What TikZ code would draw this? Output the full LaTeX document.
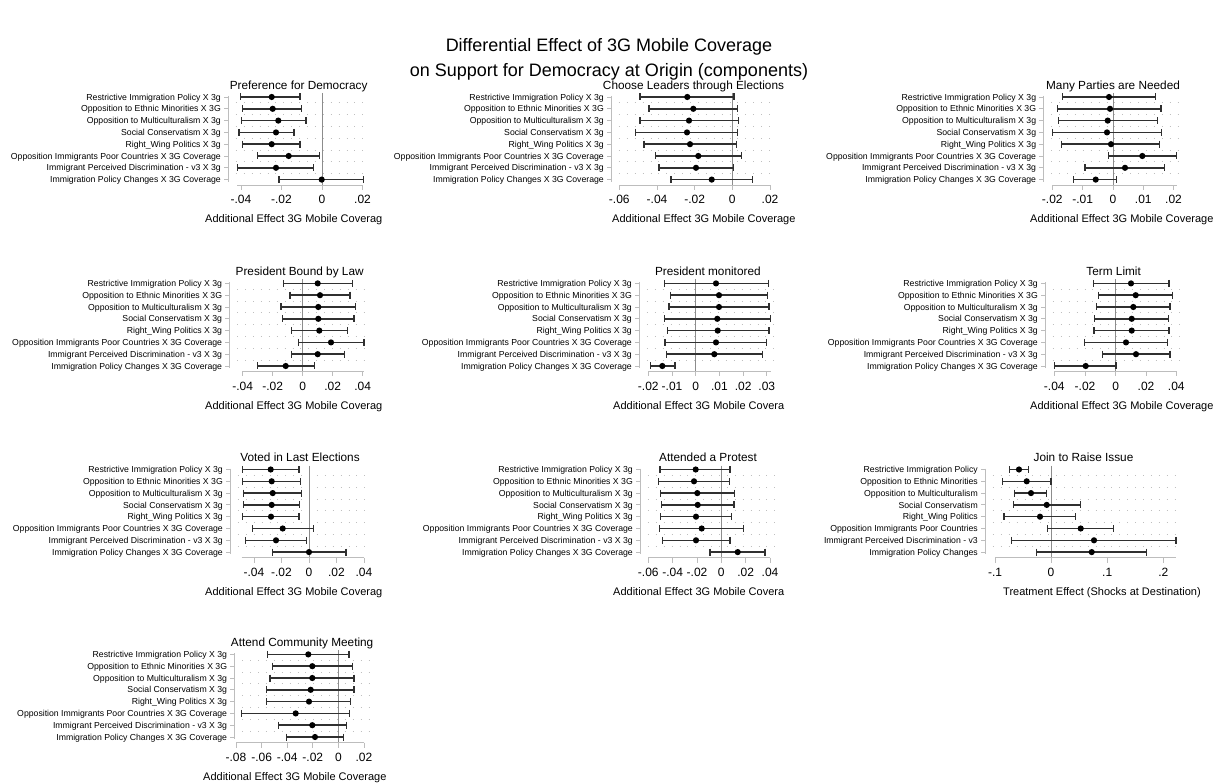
\documentclass[tikz,border=0pt]{standalone}
\usepackage{fontspec}
\setmainfont{Liberation Sans}
\definecolor{whiskcol}{HTML}{303030}
\definecolor{axcol}{HTML}{BDBDBD}
\definecolor{zerocol}{HTML}{8C8C8C}
\definecolor{gridcol}{HTML}{BFBFBF}
\tikzset{
  rowlab/.style={anchor=mid east, inner sep=0pt, font=\fontsize{8.7}{9}\selectfont},
  ticklab/.style={anchor=mid, inner sep=0pt, font=\fontsize{12}{12}\selectfont},
  axtitle/.style={anchor=mid west, inner sep=0pt, font=\fontsize{11}{11}\selectfont},
  ptitle/.style={anchor=mid, inner sep=0pt, font=\fontsize{11.8}{12}\selectfont},
  maintitle/.style={anchor=mid, inner sep=0pt, font=\fontsize{18}{18}\selectfont},
  whisk/.style={line width=1.5pt, draw=whiskcol},
  axisline/.style={draw=axcol, line width=0.9pt},
  gridline/.style={draw=gridcol, line width=0.9pt, dash pattern=on 0.9pt off 7pt},
  zeroline/.style={draw=zerocol, line width=1pt},
  ptdot/.style={circle, fill=black, inner sep=0pt, minimum size=6.2pt}
}
\def\labA{Restrictive Immigration Policy X 3g,
Opposition to Ethnic Minorities X 3G,
Opposition to Multiculturalism X 3g,
Social Conservatism X 3g,
Right\_Wing Politics X 3g,
Opposition Immigrants Poor Countries X 3G Coverage,
Immigrant Perceived Discrimination - v3 X 3g,
Immigration Policy Changes X 3G Coverage}
\def\labB{Restrictive Immigration Policy,
Opposition to Ethnic Minorities,
Opposition to Multiculturalism,
Social Conservatism,
Right\_Wing Politics,
Opposition Immigrants Poor Countries,
Immigrant Perceived Discrimination - v3,
Immigration Policy Changes}
\newcommand{\drawpanel}[1]{%
  \pgfmathsetmacro\PR{\XE+6}%
  \pgfmathsetmacro\PC{(\AX+\PR)/2}%
  \pgfmathsetmacro\YB{\RY+7*11.8}%
  \pgfmathsetmacro\XA{\YB+5.5}%
  \foreach \k in {1,...,7} {\draw[gridline] (\AX,{\RY+(\k-0.5)*11.8}) -- (\PR,{\RY+(\k-0.5)*11.8});}
  \draw[zeroline] (\ZX,{\RY-4}) -- (\ZX,\XA);
  \draw[axisline] (\AX,{\RY-1}) -- (\AX,{\YB+2});
  \foreach \k in {1,...,8} {\draw[axisline] ({\AX-4},{\RY+(\k-1)*11.8}) -- (\AX,{\RY+(\k-1)*11.8});}
  \draw[axisline] (\XS,\XA) -- (\XE,\XA);
  \foreach \p/\l [count=\j] in \TK {%
    \draw[axisline] (\p,\XA) -- (\p,{\XA+5});
    \node[ticklab] (#1-tick\j) at (\p,{\RY+104}) {\l};
  }
  \foreach \t [count=\i] in \LB {\node[rowlab] (#1-lab\i) at ({\AX-7},{\RY+(\i-1)*11.8+0.5}) {\t};}
  \foreach \lo/\pt/\hi [count=\i] in \DT {%
    \pgfmathsetmacro\yy{\RY+(\i-1)*11.8}
    \draw[whisk] (\lo,\yy) -- (\hi,\yy);
    \draw[whisk] (\lo,{\yy-3.5}) -- (\lo,{\yy+3.5});
    \draw[whisk] (\hi,{\yy-3.5}) -- (\hi,{\yy+3.5});
    \node[ptdot] (#1-pt\i) at (\pt,\yy) {};
  }
  \node[ptitle] (#1-title) at (\PC,{\RY-10.5}) {\PT};
  \node[axtitle] (#1-axis) at (\ATX,{\RY+123}) {\AT};
}
\begin{document}
\begin{tikzpicture}[x=1pt,y=-1pt]
\useasboundingbox (0,0) rectangle (1218,783);
\fill[white] (0,0) rectangle (1218,783);
\node[maintitle] (title1) at (609,49) {Differential Effect of 3G Mobile Coverage};
\node[maintitle] (title2) at (609,73.5) {on Support for Democracy at Origin (components)};

% Panel 1
\def\AX{228}\def\RY{97}\def\XS{237.3}\def\XE{363.3}\def\ZX{322}
\def\PT{Preference for Democracy}
\def\TK{241/-.04,281.5/-.02,322/0,362.5/.02}
\def\DT{240.7/271.7/300,242.3/272.7/301.7,241.7/278.3/306,239/276/294,242.3/271.7/300,257.7/288.7/319.3,237.3/276/313.3,279/321.7/363.3}
\let\LB\labA\def\AT{Additional Effect 3G Mobile Coverag}\def\ATX{205}
\drawpanel{p1}

% Panel 2
\def\AX{611}\def\RY{97}\def\XS{619.3}\def\XE{770}\def\ZX{732.3}
\def\PT{Choose Leaders through Elections}
\def\TK{619.3/-.06,657/-.04,694.7/-.02,732.3/0,770/.02}
\def\DT{640/687.3/734,649/693.3/737.7,640/689/738.3,635.7/687/737.7,644/690/736.7,655.7/698.3/741.7,659/696/733.3,671/711.7/752.3}
\let\LB\labA\def\AT{Additional Effect 3G Mobile Coverage}\def\ATX{612}
\drawpanel{p2}

% Panel 3
\def\AX{1043.3}\def\RY{97}\def\XS{1052.3}\def\XE{1176.7}\def\ZX{1113}
\def\PT{Many Parties are Needed}
\def\TK{1052.3/-.02,1082.7/-.01,1113/0,1143.3/.01,1173.5/.02}
\def\DT{1062.7/1109/1155.7,1057.7/1110/1161,1058.7/1107.7/1157.7,1052.3/1107/1161.7,1061.7/1111/1159.3,1108.3/1142.3/1176.7,1085/1125/1164.3,1073.3/1095.7/1116.7}
\let\LB\labA\def\AT{Additional Effect 3G Mobile Coverage}\def\ATX{1030}
\drawpanel{p3}

% Panel 4
\def\AX{229.3}\def\RY{283.4}\def\XS{242.7}\def\XE{364}\def\ZX{302.7}
\def\PT{President Bound by Law}
\def\TK{242.7/-.04,272.7/-.02,302.7/0,332.7/.02,362.7/.04}
\def\DT{283.3/317.7/352.3,290/320/350,281/318.3/355.7,282.7/318.3/354,291.7/319.3/347.3,298.3/331/364,291.7/317.7/344.3,257.7/285.7/314.3}
\let\LB\labA\def\AT{Additional Effect 3G Mobile Coverag}\def\ATX{205}
\drawpanel{p4}

% Panel 5
\def\AX{639}\def\RY{283.4}\def\XS{648.3}\def\XE{770.7}\def\ZX{695.7}
\def\PT{President monitored}
\def\TK{648.3/-.02,672/-.01,695.7/0,719.4/.01,743.1/.02,766.8/.03}
\def\DT{664.3/716/768.3,670.7/719/767.3,669/719/769,664.3/717.3/770.7,667.3/717.7/769,665/716/766.7,666.7/714.3/762.3,650.7/662.3/675}
\let\LB\labA\def\AT{Additional Effect 3G Mobile Covera}\def\ATX{613}
\drawpanel{p5}

% Panel 6
\def\AX{1045}\def\RY{283.4}\def\XS{1054.3}\def\XE{1176.3}\def\ZX{1115.7}
\def\PT{Term Limit}
\def\TK{1054.3/-.04,1085/-.02,1115.7/0,1146/.02,1176.3/.04}
\def\DT{1093.3/1131/1169,1098.3/1135.7/1172.3,1096.7/1133.3/1170,1094.3/1131.7/1168.3,1094/1131.7/1169,1084.3/1126/1167.3,1102.3/1136/1170,1054.3/1085.7/1116}
\let\LB\labA\def\AT{Additional Effect 3G Mobile Coverage}\def\ATX{1030}
\drawpanel{p6}

% Panel 7
\def\AX{230}\def\RY{469.5}\def\XS{241.7}\def\XE{364}\def\ZX{309}
\def\PT{Voted in Last Elections}
\def\TK{254/-.04,281.5/-.02,309/0,336.5/.02,364/.04}
\def\DT{242.3/270.7/299,242.3/271.7/300.7,243.3/272.7/301.7,243.3/271.7/299.3,242.7/271/299,252.3/282.7/313.3,245.7/276/306.7,272.7/309/346}
\let\LB\labA\def\AT{Additional Effect 3G Mobile Coverag}\def\ATX{205}
\drawpanel{p7}

% Panel 8
\def\AX{640}\def\RY{469.5}\def\XS{648.3}\def\XE{770}\def\ZX{721.3}
\def\PT{Attended a Protest}
\def\TK{648.3/-.06,672.6/-.04,697/-.02,721.3/0,745.6/.02,770/.04}
\def\DT{660/695.7/730,658.3/694/729.3,660.7/697.3/734.3,661.7/697.7/734,660.7/696/731.7,659.3/701.7/743.3,662.7/696/730,710/737.7/765}
\let\LB\labA\def\AT{Additional Effect 3G Mobile Covera}\def\ATX{613}
\drawpanel{p8}

% Panel 9
\def\AX{985}\def\RY{469.5}\def\XS{995}\def\XE{1176}\def\ZX{1051}
\def\PT{Join to Raise Issue}
\def\TK{995/-.1,1051/0,1107.2/.1,1163.3/.2}
\def\DT{1009.3/1019/1028.3,1002.7/1026.7/1051,1014.3/1031/1046.7,1013.3/1046.7/1080.7,1004/1040/1075.7,1047.7/1080.7/1113.3,1011.7/1094/1176,1036.7/1091.7/1146.7}
\let\LB\labB\def\AT{Treatment Effect (Shocks at Destination)}\def\ATX{1003}
\drawpanel{p9}

% Panel 10
\def\AX{234.3}\def\RY{654.4}\def\XS{236}\def\XE{364}\def\ZX{338.4}
\def\PT{Attend Community Meeting}
\def\TK{236/-.08,261.6/-.06,287.2/-.04,312.8/-.02,338.4/0,364/.02}
\def\DT{267.7/308.3/349,272.3/312.3/352.3,270/312.3/354,266.7/310.7/354,266.7/309/350.7,241.7/295.7/349.3,278.3/312.3/346.7,286.7/315/343.3}
\let\LB\labA\def\AT{Additional Effect 3G Mobile Coverage}\def\ATX{203}
\drawpanel{p10}
\end{tikzpicture}
\end{document}
